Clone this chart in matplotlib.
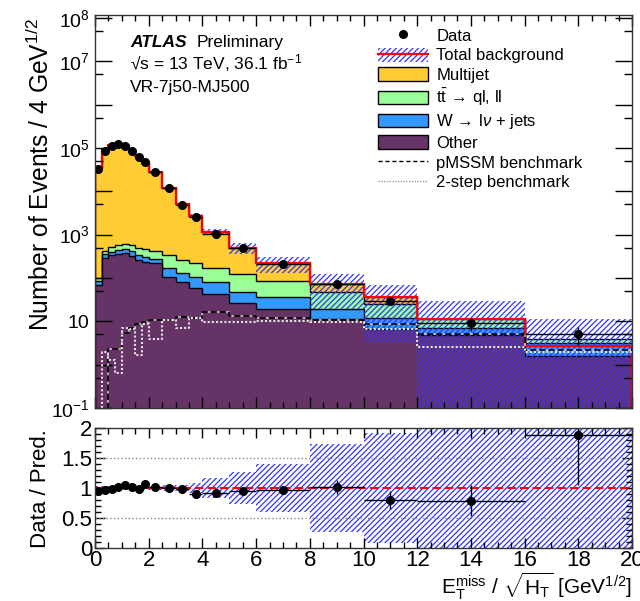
import numpy as np
import matplotlib
matplotlib.use("Agg")
import matplotlib.pyplot as plt
from matplotlib.patches import Patch
from matplotlib.lines import Line2D
from matplotlib.ticker import FixedLocator, MultipleLocator, FuncFormatter, NullFormatter

plt.rcParams['font.family'] = ['Liberation Sans', 'DejaVu Sans']
plt.rcParams['mathtext.fontset'] = 'custom'
plt.rcParams['mathtext.rm'] = 'Liberation Sans'
plt.rcParams['mathtext.it'] = 'Liberation Sans:italic'
plt.rcParams['mathtext.bf'] = 'Liberation Sans:bold'
plt.rcParams['hatch.linewidth'] = 0.9

# binning in MET/sqrt(HT)
edges = np.array([0, 0.25, 0.5, 0.75, 1.0, 1.25, 1.5, 1.75, 2.0, 2.5, 3.0, 3.5,
                  4.0, 5.0, 6.0, 8.0, 10.0, 12.0, 16.0, 20.0])

data = np.array([32000, 87000, 114000, 123000, 113000, 87000, 63000, 48000, 28000,
                 11700, 4900, 2500, 1050, 480, 211, 74, 29, 9, 5])

# background components (stack order: bottom -> top)
other = np.array([68, 295, 333, 353, 383, 316, 258, 240, 224, 106, 79, 59, 43, 26,
                  19, 11.6, 6.5, 4.9, 1.6])
wjets = np.array([19, 69, 75, 82, 87, 96, 75, 70, 53, 64, 52, 48, 38, 21, 17, 7.9,
                  5.5, 2.0, 1.5])
ttbar = np.array([15, 58, 117, 130, 150, 153, 167, 158, 145, 163, 133, 117, 89, 77,
                  47, 27.5, 13, 4.3, 0.9])
multijet = np.array([33600, 89300, 114500, 120000, 107500, 84700, 63800, 44800, 27000,
                     11400, 4740, 2530, 970, 379, 135, 25.5, 11.5, 0.2, -1.35])

# relative uncertainty on the total background
bkg_unc = np.array([0.035, 0.035, 0.035, 0.035, 0.035, 0.035, 0.035, 0.035, 0.04,
                    0.045, 0.05, 0.09, 0.16, 0.27, 0.40, 0.73, 0.91, 1.6, 3.3])

# signal benchmarks
pmssm = np.array([0.01, 0.01, 2.3, 2.3, 5.5, 7.2, 8.9, 9.5, 10.5, 11, 12.6, 12, 16,
                  13.5, 12, 11, 8.6, 5.0, 2.2])
two_step = np.array([0.01, 1.95, 1.3, 0.63, 7.2, 6.5, 1.7, 8.9, 3.9, 10.7, 7.2, 12,
                     9.4, 9.8, 10.2, 9.4, 6.5, 2.5, 2.0])

c_other = '#663366'
c_wjets = '#3399ff'
c_ttbar = '#99ff99'
c_mj = '#ffcc33'
c_hatch = '#3333ff'
hatch = '//////'

centers = 0.5 * (edges[1:] + edges[:-1])
halfw = 0.5 * (edges[1:] - edges[:-1])
total = other + wjets + ttbar + multijet
cum = np.cumsum([other, wjets, ttbar, multijet], axis=0)
ratio = data / total

fig = plt.figure(figsize=(6.4, 6.01), dpi=100)
ax = fig.add_axes([95 / 640, 1 - 408 / 601, 537 / 640, 393 / 601])
axr = fig.add_axes([95 / 640, 1 - 548 / 601, 537 / 640, 120 / 601])

# stacked histograms, drawn from the full sum downwards
for vals, col in reversed(list(zip(cum, [c_other, c_wjets, c_ttbar, c_mj]))):
    ax.stairs(vals, edges, baseline=1e-3, fill=True, facecolor=col,
              edgecolor='black', lw=1.0)

ax.step(edges, np.append(pmssm, pmssm[-1]), where='post', color='black',
        ls=(0, (4, 2)), gapcolor='#cccccc', lw=1.1)
ax.step(edges, np.append(two_step, two_step[-1]), where='post', color='#e4e4e4',
        ls=(0, (1, 1)), lw=1.5)

lo = np.clip(total * (1 - bkg_unc), 1e-3, None)
hi = total * (1 + bkg_unc)
ax.stairs(hi, edges, baseline=lo, fill=True, facecolor='none', edgecolor=c_hatch,
          hatch=hatch, lw=0)
ax.stairs(total, edges, color='red', lw=1.6)

ax.errorbar(centers, data, xerr=halfw, yerr=np.sqrt(data), fmt='o', color='black',
            ms=5.5, lw=1, capsize=0)

ax.set_yscale('log')
ax.set_xlim(0, 20)
ax.set_ylim(0.1, 1.17e8)

labelled = {-1: r'$10^{-1}$', 1: '10', 3: r'$10^{3}$', 5: r'$10^{5}$',
            7: r'$10^{7}$', 8: r'$10^{8}$'}
ax.yaxis.set_major_locator(FixedLocator([10.0 ** k for k in range(-1, 9)]))
ax.yaxis.set_major_formatter(FuncFormatter(
    lambda v, p: labelled.get(int(round(np.log10(v))), '')))
ax.yaxis.set_minor_locator(FixedLocator([5 * 10.0 ** k for k in range(-1, 8)]))
ax.yaxis.set_minor_formatter(NullFormatter())
ax.xaxis.set_major_locator(MultipleLocator(2))
ax.xaxis.set_minor_locator(MultipleLocator(0.5))
ax.tick_params(axis='x', which='both', labelbottom=False)
ax.tick_params(which='both', direction='in', top=True, right=True, width=1)
ax.tick_params(axis='y', which='major', length=12, labelsize=14, pad=4)
ax.tick_params(axis='y', which='minor', length=6)
ax.tick_params(axis='x', which='major', length=8)
ax.tick_params(axis='x', which='minor', length=4)

ax.text(0.065, 0.9186, 'ATLAS', transform=ax.transAxes, fontsize=12.5,
        fontweight='bold', style='italic')
ax.text(0.19, 0.9186, 'Preliminary', transform=ax.transAxes, fontsize=12.5)
ax.text(0.065, 0.8626, '\u221as = 13 TeV, 36.1 fb$^{-1}$', transform=ax.transAxes,
        fontsize=12.5)
ax.text(0.065, 0.804, 'VR-7j50-MJ500', transform=ax.transAxes, fontsize=12.5)

handles = [
    Line2D([], [], marker='o', color='black', ls='none', ms=5.5),
    (Patch(facecolor='none', edgecolor=c_hatch, hatch=hatch, lw=0),
     Line2D([], [], color='red', lw=1.6)),
    Patch(facecolor=c_mj, edgecolor='black', lw=1),
    Patch(facecolor=c_ttbar, edgecolor='black', lw=1),
    Patch(facecolor=c_wjets, edgecolor='black', lw=1),
    Patch(facecolor=c_other, edgecolor='black', lw=1),
    Line2D([], [], color='black', ls=(0, (3, 2)), lw=1),
    Line2D([], [], color='#999999', ls=(0, (1, 1)), lw=1),
]
labels = ['Data', 'Total background', 'Multijet',
          r'$\mathrm{t\bar{t}}$ $\!\rightarrow\!$ ql, ll',
          r'W $\!\rightarrow\!$ l$\nu$ + jets',
          'Other', 'pMSSM benchmark', '2-step benchmark']
ax.legend(handles, labels, loc='upper left', bbox_to_anchor=((378 - 95) / 537, (408 - 28) / 393),
          frameon=False, fontsize=12, handlelength=3.0, handleheight=0.9,
          handletextpad=0.5, labelspacing=0.24, borderpad=0, borderaxespad=0)

# ratio panel
axr.stairs(1 + bkg_unc, edges, baseline=1 - bkg_unc, fill=True, facecolor='none',
           edgecolor=c_hatch, hatch=hatch, lw=0)
for yv in (0.5, 1.5):
    axr.axhline(yv, color='#888888', ls=':', lw=1)
axr.axhline(1, color='red', ls=(0, (4, 2)), lw=1.5)
axr.errorbar(centers, ratio, xerr=halfw, yerr=np.sqrt(data) / total, fmt='o',
             color='black', ms=5.5, lw=1, capsize=0)
axr.set_xlim(0, 20)
axr.set_ylim(0, 2)
axr.yaxis.set_major_locator(FixedLocator([0, 0.5, 1, 1.5, 2]))
axr.yaxis.set_major_formatter(FuncFormatter(lambda v, p: f'{v:g}'))
axr.yaxis.set_minor_locator(MultipleLocator(0.1))
axr.xaxis.set_major_locator(MultipleLocator(2))
axr.xaxis.set_minor_locator(MultipleLocator(0.5))
axr.tick_params(which='both', direction='in', top=True, right=True, width=1)
axr.tick_params(which='major', length=7, labelsize=16)
axr.tick_params(which='minor', length=4)
axr.tick_params(axis='x', pad=1.5)
axr.tick_params(axis='y', pad=2)

for a in (ax, axr):
    for s in a.spines.values():
        s.set_linewidth(1.0)
        s.set_color('#333333')

fig.text(40 / 640, 1 - 18 / 601, r'Number of Events / 4 GeV$^{1/2}$', rotation=90,
         ha='center', va='top', fontsize=17.7)
fig.text(40 / 640, 1 - 489 / 601, 'Data / Pred.', rotation=90, ha='center',
         va='center', fontsize=16)
fig.text(632 / 640, 1 - 594 / 601,
         r'$\mathrm{E}_{\mathrm{T}}^{\mathrm{miss}}$ / $\sqrt{\mathrm{H}_{\mathrm{T}}}$ [GeV$^{1/2}$]',
         ha='right', va='baseline', fontsize=15)

fig.savefig('out.png', dpi=100)
